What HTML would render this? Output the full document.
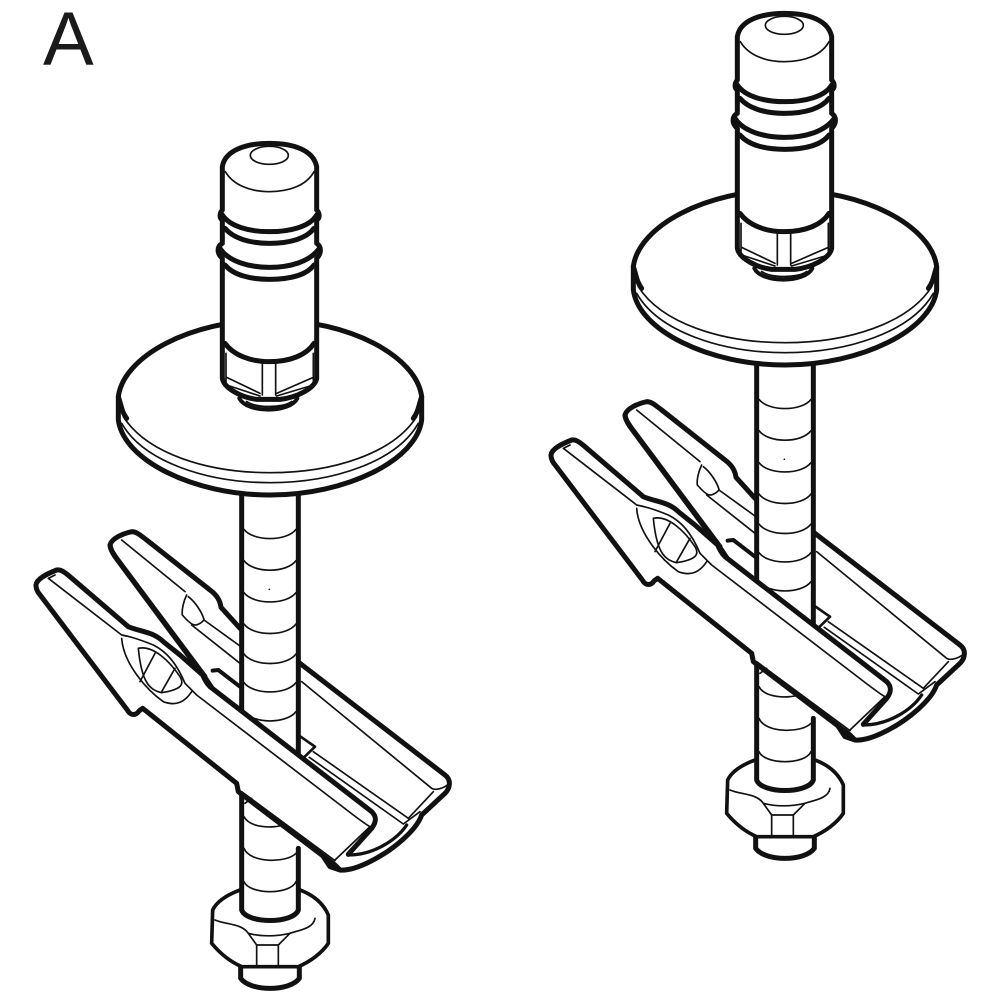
<!DOCTYPE html>
<html><head><meta charset="utf-8"><style>html,body{margin:0;padding:0;background:#fff}svg{display:block}</style></head>
<body>
<svg width="1000" height="1000" viewBox="0 0 1000 1000" xmlns="http://www.w3.org/2000/svg">
<rect width="1000" height="1000" fill="#fff"/>
<text x="43" y="65" font-family="Liberation Sans, sans-serif" font-size="76" fill="#1a1a1a">A</text>
<defs>
<g id="bolt" fill="none" stroke="#111" stroke-linecap="round" stroke-linejoin="round">
 <g transform="translate(20,520) scale(.33333)" stroke-width="15">
  <!-- stud and nut -->
  <path fill="#fff" d="M662,1330V1375C690,1415 810,1415 838,1375V1330"/>
  <path fill="#fff" d="M660,1110C620,1125 590,1145 578,1170L575,1270C600,1300 630,1325 665,1340L835,1340C870,1325 905,1300 925,1270L925,1185C910,1150 880,1125 840,1110Z" stroke-width="11"/>
  <g stroke-width="5"><path d="M585,1200C620,1215 665,1210 685,1240L710,1275H775L810,1240C840,1230 880,1225 885,1195"/><path d="M685,1240C720,1250 770,1250 810,1240"/><path d="M710,1275V1335M775,1275V1335"/></g>
  <!-- lower shaft -->
  <path fill="#fff" stroke="none" d="M665,800H835V1170C820,1212 680,1212 665,1170Z"/>
  <path d="M665,820V1170C680,1212 820,1212 835,1170V985"/>
  <path stroke-width="5" d="M672,890C690,925 760,925 790,915M672,985C690,1030 800,1030 828,1000M672,1085C690,1125 810,1125 828,1085"/>
  <!-- back wing -->
  <path fill="#fff" d="M270,75C275,55 310,40 335,35C350,35 360,45 380,60L570,210C590,225 600,240 603,262L660,325L840,430L1275,765C1295,780 1290,805 1275,820L1205,885C1190,930 1120,990 1050,1025C1010,1045 980,1052 960,1050L930,1040L560,480L285,110C275,95 270,85 270,75Z"/>
  <g stroke-width="5">
   <path d="M305,60L495,215M500,225C490,245 485,270 487,285C500,300 515,315 525,315C535,315 550,305 552,298M505,230C525,245 545,275 552,298"/>
   <path d="M552,300L660,378M515,315L660,430"/>
   <path d="M845,485L1235,805C1245,812 1270,805 1282,795"/>
   <path d="M880,695L1165,895M868,712L1150,912M1165,895L1240,815M1150,912L1200,875"/>
  </g>
  <path stroke-width="10" d="M985,1005C1060,1005 1130,960 1160,915"/>
  <!-- between wings -->
  <path d="M578,452L595,450L660,500M570,500L660,570" stroke-width="12"/>
  <!-- upper shaft -->
  <path fill="#fff" stroke="none" d="M665,-80H835V710H665Z"/>
  <path d="M665,-80V570M835,-80V705"/>
  <path stroke-width="5" d="M672,28C700,65 800,65 828,28M672,122C700,160 800,160 828,122M672,218C700,255 800,255 828,218M672,312C700,350 800,350 828,312M672,402C700,440 800,440 828,402M672,488C700,525 800,525 828,488M672,575C700,612 800,612 828,575"/>
  <circle cx="748" cy="208" r="2.5" fill="#111" stroke="none"/>
  <path stroke-width="8" d="M842,650L885,680L852,712"/>
  <!-- front wing -->
  <path fill="#fff" stroke="none" d="M48,195C50,175 85,160 110,150C125,148 135,158 150,170L325,320C360,335 400,335 430,365L555,470L570,500L1055,875C1070,890 1070,905 1055,925L945,1030L660,810L650,790L370,565L360,570C345,590 330,585 322,570L50,210Z"/>
  <path d="M48,195C50,175 85,160 110,150C125,148 135,158 150,170L325,320C360,335 400,335 430,365L480,405L548,465C552,475 560,490 570,500L1055,875C1070,890 1070,905 1055,925L985,1003"/>
  <path d="M48,195C48,205 50,210 55,218L322,570C330,585 345,590 358,572L368,565L650,790L655,815L945,1035L960,1050"/>
  <path d="M270,75C272,90 280,100 290,115L555,470"/>
  <g stroke-width="5">
   <path d="M85,175L105,165M85,175L305,345C330,350 350,355 400,375C440,395 470,430 495,490L530,525L1000,885C1020,900 1040,915 1050,920L945,1020"/>
   <path d="M305,355C310,430 380,510 430,545C470,560 495,545 515,515"/>
   <path d="M355,385C400,375 450,425 480,470C495,495 480,510 425,518C390,510 365,490 355,385Z"/>
   <path d="M405,400L360,485M465,445L425,515"/>
   <path d="M665,815L945,1022M675,850L695,835"/>
  </g>
 </g>
 <g transform="translate(100,130) scale(.33333)" stroke-width="15">
  <!-- washer -->
  <path fill="#fff" d="M55,800V870C70,990 280,1095 510,1095C740,1095 950,990 965,870V800C950,680 750,570 510,570C270,570 70,680 55,800Z"/>
  <path d="M55,800C65,830 65,845 80,865M965,800C955,830 955,845 940,865"/>
  <path stroke-width="5" d="M70,860C140,970 320,1028 510,1028C700,1028 880,970 950,860M65,880C130,995 320,1058 510,1058C700,1058 890,995 955,880"/>
  <!-- cap -->
  <path fill="#fff" stroke="none" d="M367,100C375,60 440,40 508,40C580,40 640,60 650,100V750C630,790 590,810 540,840H470C430,810 390,790 367,750Z"/>
  <path fill="#fff" stroke-width="12" d="M418,805C440,850 570,850 592,805"/>
  <path stroke-width="6" d="M440,815C470,835 550,835 575,815"/>
  <path d="M367,110C375,60 440,40 508,40C580,40 640,60 650,110V240M367,110V240M650,240C660,250 660,265 650,270V340M367,240C358,250 358,265 367,270V335M650,340C665,350 665,370 650,385V745C645,775 590,803 540,808H470C425,803 372,775 367,745V385C350,370 350,350 367,340"/>
  <path d="M367,255C390,290 450,305 508,305C570,305 630,290 650,255M375,295C400,325 450,340 508,340C570,340 620,325 642,295M360,355C385,395 450,412 508,412C570,412 630,395 658,355M375,405C400,435 450,448 508,448C570,448 620,435 642,405M375,640C400,675 450,695 508,695C570,695 620,675 642,640"/>
  <g stroke-width="5">
   <path d="M376,125C400,165 450,185 508,185C570,185 620,165 642,125"/>
   <ellipse cx="508" cy="76" rx="57" ry="27"/>
   <path d="M378,670V760M640,670V760M487,700V795M527,700V795M380,742L480,790M640,742L530,790M380,765L480,798M640,765L530,798"/>
  </g>
 </g>
</g>
</defs>
<use href="#bolt"/>
<use href="#bolt" transform="translate(515,-130)"/>
</svg>
</body></html>
